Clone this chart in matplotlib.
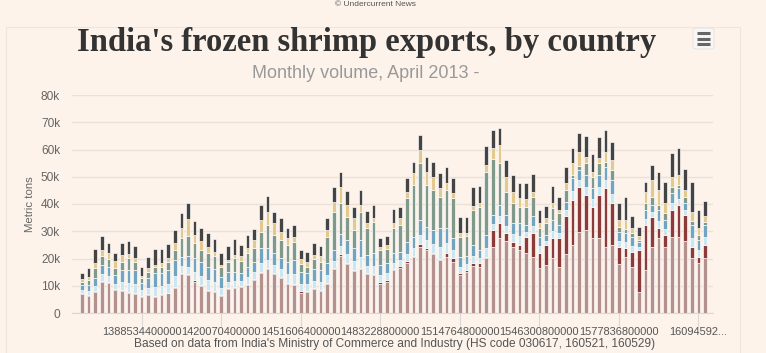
import numpy as np
import matplotlib
matplotlib.use("Agg")
import matplotlib.pyplot as plt
from matplotlib.patches import FancyBboxPatch, Rectangle
from matplotlib.ticker import FuncFormatter, FixedLocator

# =========================================================
# DATA  (thousand metric tons, monthly Apr 2013 - Feb 2021)
# =========================================================

pink = [7.0, 6.2, 7.8, 11.5, 10.9, 8.4, 8.2, 7.5, 7.0, 6.0,
        6.5, 6.0, 6.6, 7.2, 9.1, 14.3, 13.9, 11.5, 9.8, 8.2,
        7.8, 6.2, 8.7, 9.1, 9.4, 10.3, 12.1, 14.6, 16.0, 14.3,
        12.7, 10.6, 10.3, 7.5, 7.8, 8.7, 8.2, 10.5, 16.0, 21.0,
        17.8, 15.4, 16.0, 14.2, 13.9, 10.7, 11.5, 15.6, 16.6, 18.4,
        20.5, 24.3, 23.2, 21.5, 19.4, 20.7, 18.6, 13.9, 14.9, 17.2,
        16.8, 20.1, 24.3, 27.4, 26.5, 24.3, 23.1, 21.9, 20.7, 16.4,
        17.6, 20.1, 17.0, 21.7, 25.0, 29.8, 30.5, 27.4, 27.4, 24.3,
        25.0, 18.0, 20.4, 17.0, 7.8, 15.8, 24.3, 27.4, 24.3, 28.0,
        28.0, 26.5, 20.1, 18.2, 20.1]

dark_red = [0.5, 0.4, 0.4, 0.4, 0.4, 0.4, 0.4, 0.3, 0.4, 0.4,
            0.4, 0.4, 0.4, 0.3, 0.4, 0.5, 0.5, 0.5, 0.4, 0.4,
            0.4, 0.4, 0.4, 0.4, 0.4, 0.4, 0.4, 0.5, 0.5, 0.5,
            0.5, 0.5, 0.5, 0.4, 0.4, 0.4, 0.4, 0.5, 0.5, 0.5,
            0.5, 0.5, 0.5, 0.5, 0.5, 0.5, 0.5, 0.5, 0.5, 0.5,
            0.5, 1.0, 0.5, 0.5, 0.6, 1.2, 1.5, 0.7, 0.9, 1.0,
            1.4, 0.6, 6.2, 5.7, 2.7, 1.9, 1.9, 6.1, 8.5, 5.7,
            7.4, 7.3, 10.4, 13.9, 16.5, 16.6, 12.8, 11.6, 15.9, 21.4,
            15.2, 6.3, 3.3, 5.5, 15.3, 16.5, 11.1, 3.7, 4.3, 9.8,
            11.6, 9.5, 4.2, 2.5, 4.9]

light_blue = [1.1, 1.5, 1.8, 2.3, 2.3, 2.0, 2.9, 3.2, 3.4, 1.9,
              2.3, 3.3, 3.0, 3.3, 4.0, 2.4, 2.6, 3.2, 3.4, 3.4,
              3.1, 2.7, 2.4, 2.3, 2.0, 2.5, 2.5, 3.4, 2.9, 2.8,
              2.8, 3.1, 3.4, 2.9, 2.6, 2.8, 2.9, 3.0, 2.6, 3.0,
              3.4, 3.1, 4.1, 2.6, 3.0, 2.6, 2.5, 2.4, 2.2, 2.9,
              2.8, 3.5, 3.2, 3.4, 4.4, 3.7, 2.9, 2.4, 2.0, 2.7,
              2.0, 3.2, 2.2, 2.6, 2.7, 2.7, 3.2, 1.7, 2.6, 2.4,
              1.4, 2.7, 2.0, 2.1, 3.2, 2.4, 2.9, 2.7, 2.9, 3.2,
              3.4, 2.2, 2.2, 2.2, 1.2, 2.2, 1.7, 2.7, 2.2, 2.4,
              2.4, 1.8, 3.2, 2.4, 2.9]

blue = [1.7, 2.2, 2.7, 3.4, 3.4, 3.1, 4.3, 4.8, 5.0, 2.8,
        3.5, 4.9, 4.6, 5.0, 5.9, 3.5, 3.9, 4.9, 5.2, 5.0,
        4.7, 4.0, 3.7, 3.4, 3.0, 3.8, 3.8, 5.2, 4.3, 4.3,
        4.1, 4.6, 5.2, 4.4, 3.8, 4.1, 4.3, 4.5, 4.0, 4.5,
        5.1, 4.7, 6.2, 4.0, 4.5, 3.8, 3.7, 3.6, 3.2, 4.4,
        4.2, 5.3, 4.8, 5.1, 6.7, 5.5, 4.4, 3.7, 3.1, 4.1,
        2.9, 4.7, 3.3, 3.9, 4.1, 4.0, 4.7, 2.6, 3.8, 3.5,
        2.2, 4.0, 2.9, 3.2, 4.7, 3.7, 4.4, 4.0, 4.4, 4.8,
        5.2, 3.3, 3.3, 3.3, 1.9, 3.3, 2.5, 4.0, 3.3, 3.7,
        3.7, 2.7, 4.8, 3.7, 4.4]

grey_green = [1.2, 1.8, 3.7, 3.3, 2.7, 2.5, 3.0, 4.3, 3.0, 1.6,
              2.5, 2.2, 2.4, 3.0, 3.7, 6.7, 7.4, 5.5, 4.3, 5.1,
              4.9, 3.7, 3.6, 4.9, 4.4, 4.9, 4.9, 6.1, 8.6, 6.7,
              6.7, 6.2, 6.8, 2.8, 2.4, 3.7, 3.0, 9.5, 14.1, 11.5,
              8.6, 6.8, 10.4, 9.8, 11.6, 5.5, 5.2, 9.0, 9.8, 15.9,
              19.0, 20.8, 15.3, 14.6, 11.6, 14.0, 14.7, 7.3, 7.4, 12.8,
              15.7, 23.3, 20.4, 15.6, 8.5, 7.3, 6.1, 6.7, 6.8, 3.1,
              4.3, 4.3, 4.3, 4.2, 1.2, 1.5, 4.3, 4.3, 4.3, 1.8,
              3.7, 1.9, 1.5, 1.5, 0.6, 2.4, 3.1, 1.8, 2.5, 2.5,
              1.3, 1.9, 1.4, 1.8, 1.2]

tan = [0.9, 1.0, 2.1, 2.2, 2.2, 2.8, 2.5, 1.6, 1.3, 0.9,
       1.2, 0.8, 1.2, 1.3, 2.5, 3.7, 6.1, 3.0, 3.4, 2.0,
       1.6, 0.6, 0.6, 1.2, 1.7, 1.8, 3.1, 4.3, 4.9, 4.3,
       3.0, 2.4, 1.8, 1.7, 1.8, 1.6, 2.1, 2.5, 3.7, 5.9,
       4.2, 4.2, 2.4, 1.8, 1.2, 1.2, 1.6, 1.8, 2.4, 2.4,
       4.3, 4.9, 4.9, 4.9, 3.0, 2.5, 1.8, 1.5, 1.2, 1.5,
       1.4, 2.4, 4.0, 6.5, 5.5, 4.3, 3.1, 2.7, 2.1, 1.8,
       1.8, 1.8, 1.2, 2.5, 4.3, 5.2, 2.5, 1.9, 1.9, 3.7,
       3.6, 2.4, 3.4, 1.6, 1.5, 4.3, 6.1, 5.5, 3.6, 3.6,
       3.6, 2.7, 3.5, 2.5, 2.1]

dark_grey = [2.4, 3.3, 4.9, 5.2, 3.9, 2.9, 4.5, 4.7, 4.5, 3.4,
             4.0, 5.8, 5.2, 5.2, 4.9, 5.7, 6.1, 5.3, 4.6, 5.1,
             4.5, 4.3, 5.2, 5.7, 4.1, 4.9, 3.9, 5.5, 5.7, 4.3,
             5.2, 3.7, 4.3, 3.4, 3.7, 4.5, 3.7, 4.5, 5.5, 5.5,
             5.3, 4.3, 5.5, 4.7, 4.9, 3.3, 3.3, 5.4, 4.1, 4.9,
             4.2, 5.6, 5.5, 5.5, 5.5, 5.8, 5.8, 5.6, 5.6, 6.8,
             6.4, 7.0, 6.8, 6.1, 6.1, 6.1, 5.7, 6.1, 6.5, 4.9,
             4.6, 6.4, 4.6, 5.9, 5.5, 6.8, 7.6, 6.6, 7.8, 8.0,
             6.8, 6.4, 8.3, 4.5, 3.4, 3.7, 5.5, 6.8, 8.0, 8.8,
             10.1, 7.6, 11.0, 6.7, 5.6]

# x-axis ticks: January of each year (epoch ms, as the source chart shows them)
tick_months = [9, 21, 33, 45, 57, 69, 81, 93]
tick_labels = ["1388534400000", "1420070400000", "1451606400000", "1483228800000",
               "1514764800000", "1546300800000", "1577836800000", "16094592..."]
y_ticks = [0, 10, 20, 30, 40, 50, 60, 70, 80]

# =========================================================
# STYLE
# =========================================================

BG = "#fdf3ea"
GRID = "#ebe1d7"
COLORS = ["#b3918f", "#8c3a3a", "#c9e7f2", "#6fa5c1", "#7f9a8b", "#e3c98d", "#444444"]
SANS = ["Liberation Sans", "DejaVu Sans"]

series = [pink, dark_red, light_blue, blue, grey_green, tan, dark_grey]

fig = plt.figure(figsize=(7.66, 3.53), dpi=100, facecolor=BG)

# outer chart frame + export menu button
fig.patches.append(Rectangle((6 / 766, -0.1), 734 / 766, 1.1 - 27 / 353,
                             transform=fig.transFigure, fill=False,
                             edgecolor="#efe5dc", linewidth=0.8))
fig.patches.append(FancyBboxPatch((693 / 766, 1 - 49 / 353), 21 / 766, 21 / 353,
                                  boxstyle="round,pad=0,rounding_size=0.006",
                                  transform=fig.transFigure, facecolor="#f7f7f7",
                                  edgecolor="#e6e6e6", linewidth=0.8))
for yy in (33, 38.5, 44):
    fig.lines.append(plt.Line2D([697 / 766, 710 / 766], [1 - yy / 353, 1 - yy / 353],
                                transform=fig.transFigure, color="#666666",
                                linewidth=2.2, solid_capstyle="butt"))

ax = fig.add_axes([72 / 766, 40 / 353, 641 / 766, 218 / 353])
ax.set_facecolor(BG)

x = np.arange(len(pink))
bottom = np.zeros(len(pink))
for vals, col in zip(series, COLORS):
    ax.bar(x, vals, bottom=bottom, width=0.55, color=col,
           edgecolor="white", linewidth=0.45, zorder=3)
    bottom += np.array(vals)

ax.set_xlim(-1.5, 95.2)
ax.set_ylim(0, 80)
ax.yaxis.set_major_locator(FixedLocator(y_ticks))
ax.yaxis.set_major_formatter(FuncFormatter(lambda v, p: "0" if v == 0 else f"{int(v)}k"))
ax.grid(axis="y", color=GRID, linewidth=1, zorder=0)
ax.tick_params(axis="y", length=0, pad=8.5, labelsize=8.6, labelcolor="#666666")
for lbl in ax.get_yticklabels():
    lbl.set_family(SANS)

ax.set_xticks(tick_months)
ax.set_xticklabels(tick_labels, fontsize=7.95, color="#555555", family=SANS)
ax.tick_params(axis="x", length=9, color="#d8d8d8", pad=1)

for s in ["top", "right", "left"]:
    ax.spines[s].set_visible(False)
ax.spines["bottom"].set_color("#d8d8d8")

ax.set_ylabel("Metric tons", fontsize=8.2, color="#666666", family=SANS, labelpad=4)

fig.text(0.478, 1 - 43 / 353, "India's frozen shrimp exports, by country",
         ha="center", va="center", fontsize=23.5, fontweight="bold",
         color="#333333", family=["Liberation Serif", "DejaVu Serif"])
fig.text(0.478, 1 - 73 / 353, "Monthly volume, April 2013 -",
         ha="center", va="center", fontsize=13, color="#999999", family=SANS)
fig.text(0.515, 1 - 344 / 353,
         "Based on data from India's Ministry of Commerce and Industry (HS code 030617, 160521, 160529)",
         ha="center", va="center", fontsize=8.6, color="#555555", family=SANS)
fig.text(0.49, 1 - 5 / 353, "\u00a9 Undercurrent News", ha="center", va="center",
         fontsize=6, color="#555555", family=SANS)

fig.savefig("out.png", dpi=100, facecolor=BG)
